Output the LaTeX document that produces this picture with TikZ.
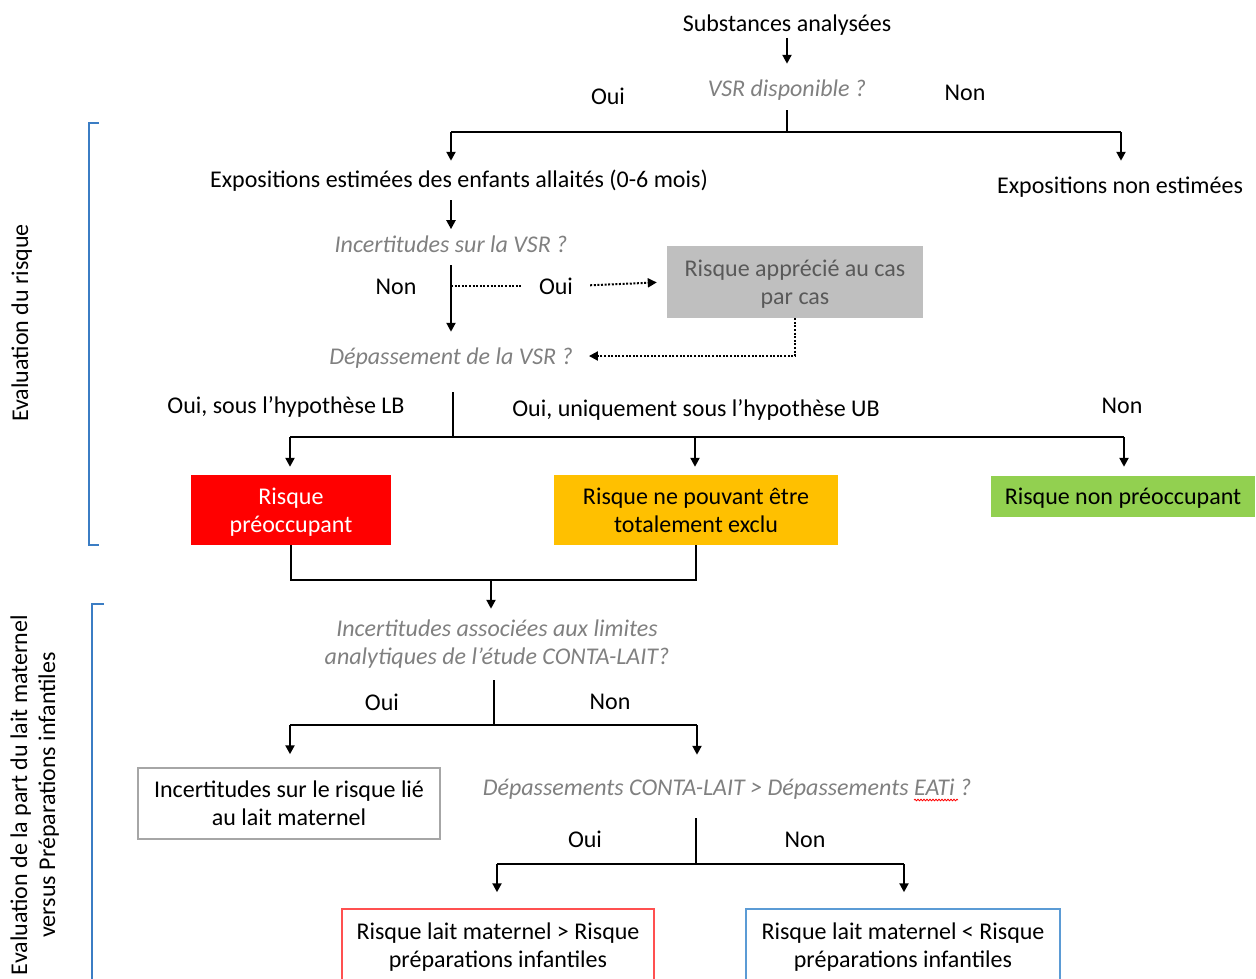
\documentclass[tikz,border=0pt]{standalone}
\usepackage{fontspec}
\setmainfont{Carlito}
\usetikzlibrary{arrows.meta,calc,decorations.pathmorphing}
\definecolor{qgray}{HTML}{808080}
\definecolor{boxgray}{HTML}{BFBFBF}
\definecolor{boxtext}{HTML}{595959}
\definecolor{rred}{HTML}{FF0000}
\definecolor{rorange}{HTML}{FFC000}
\definecolor{rgreen}{HTML}{92D050}
\definecolor{bblue}{HTML}{3B7DC4}
\definecolor{redborder}{HTML}{FF5050}
\definecolor{blueborder}{HTML}{5B9BD5}
\definecolor{thinborder}{HTML}{A6A6A6}
\newcommand\topstrut{\rule{0pt}{22.8pt}}
\newcommand\botstrut{\rule[-6.5pt]{0pt}{6.5pt}}
\begin{document}
\begin{tikzpicture}[x=1pt,y=-1pt,
  every node/.style={font=\fontsize{24}{28}\selectfont, inner sep=0pt, align=center, text=black},
  sl/.style={execute at begin node={\rule{0pt}{22.8pt}},
    execute at end node={\rule[-6.5pt]{0pt}{6.5pt}}},
  quest/.style={text=qgray, font=\fontsize{24}{28}\selectfont\itshape},
  flow/.style={line width=2.2pt, draw=black},
  arr/.style={flow, -{Triangle[length=9pt,width=9pt]}},
  dotline/.style={line width=2pt, draw=black, dash pattern=on 2pt off 1.6pt},
  dotarr/.style={dotline, -{Triangle[length=9pt,width=9pt]}},
  fillbox/.style={rectangle, draw=none, minimum width=#1},
  outbox/.style={rectangle, line width=1.5pt, minimum width=#1},
  bracket/.style={line width=2.5pt, draw=bblue},
  sidelabel/.style={rotate=90, text=black}
]
\useasboundingbox (0,0) rectangle (1256,978);

% ---------- nodes ----------
\node[sl] (subst) at (787,23) {Substances analysées};
\node[sl, quest] (vsr) at (787,88) {VSR disponible ?};
\node[sl] (oui1) at (608,96) {Oui};
\node[sl] (non1) at (965,92) {Non};
\node[sl] (expo) at (459,179) {Expositions estimées des enfants allaités (0-6 mois)};
\node[sl] (nonexpo) at (1120,185) {Expositions non estimées};
\node[sl, quest] (incvsr) at (451,244) {Incertitudes sur la VSR ?};
\node[sl] (non2) at (396,286) {Non};
\node[sl] (oui2) at (556,286) {Oui};
\node[fillbox=256pt, minimum height=72pt, fill=boxgray, text=boxtext] (cas) at (795,282) {\topstrut Risque apprécié au cas\\par cas\botstrut};
\node[sl, quest] (dep) at (451,356) {Dépassement de la VSR ?};
\node[sl] (lb) at (286,405) {Oui, sous l’hypothèse LB};
\node[sl] (ub) at (696,408) {Oui, uniquement sous l’hypothèse UB};
\node[sl] (non3) at (1122,405) {Non};
\node[fillbox=200pt, minimum height=70pt, fill=rred, text=white] (rred) at (291,510) {\topstrut Risque\\préoccupant\botstrut};
\node[fillbox=284pt, minimum height=70pt, fill=rorange] (rorange) at (696,510) {\topstrut Risque ne pouvant être\\totalement exclu\botstrut};
\node[sl, fillbox=264pt, minimum height=41pt, fill=rgreen] (rgreen) at (1123,496.5) {Risque non préoccupant};
\node[quest] (inca) at (497,642) {\topstrut Incertitudes associées aux limites\\analytiques de l’étude CONTA-LAIT?\botstrut};
\node[sl] (oui4) at (382,702) {Oui};
\node[sl] (non4) at (610,701) {Non};
\node[outbox=302pt, minimum height=71pt, draw=thinborder] (incbox) at (289,803.5) {\topstrut Incertitudes sur le risque lié\\au lait maternel\botstrut};
\node[sl, quest] (depc) at (727,787) {Dépassements CONTA-LAIT > Dépassements EATi ?};
\node[sl] (oui5) at (585,839) {Oui};
\node[sl] (non5) at (805,839) {Non};
\node[outbox=312pt, minimum height=73pt, draw=redborder] (rlm1) at (498,945.5) {\topstrut Risque lait maternel > Risque\\préparations infantiles\botstrut};
\node[outbox=314pt, minimum height=73pt, draw=blueborder] (rlm2) at (903,945.5) {\topstrut Risque lait maternel < Risque\\préparations infantiles\botstrut};
\node[sl, sidelabel] (eval1) at (20,323) {Evaluation du risque};
\node[sidelabel] (eval2) at (33,795) {\topstrut Evaluation de la part du lait maternel\\versus Préparations infantiles\botstrut};

% ---------- junctions ----------
\coordinate (j1) at (787,132);
\coordinate (jl) at (451,132);
\coordinate (jr) at (1121,132);
\coordinate (dj) at (451,286);
\coordinate (j3) at (453,437);
\coordinate (h3l) at (290,437);
\coordinate (h3m) at (695,437);
\coordinate (h3r) at (1124,437);
\coordinate (jm) at (491,580);
\coordinate (j4) at (494,725);
\coordinate (h4l) at (290,725);
\coordinate (h4r) at (697,725);
\coordinate (j5) at (696,864);
\coordinate (h5l) at (497,864);
\coordinate (h5r) at (904,864);

% ---------- connectors ----------
\draw[arr, shorten >=9.4pt] (subst.south) -- (vsr.north);
\draw[flow, shorten <=7.4pt] (vsr.south) -- (j1);
\draw[flow] (jl) -- (jr);
\draw[arr, shorten >=3.4pt] (jl) -- (jl |- expo.north);
\draw[arr, shorten >=9.4pt] (jr) -- (jr |- nonexpo.north);
\draw[arr, shorten <=6.4pt] (incvsr.north |- expo.south) -- (incvsr.north);
\draw[arr, shorten <=6.4pt, shorten >=9.4pt] (incvsr.south) -- (dep.north);
\draw[dotline, shorten >=18pt] (dj) -- (oui2.west);
\draw[dotarr, shorten <=17pt, shorten >=10pt] (oui2.east) -- (cas.west);
\draw[dotarr, shorten >=16pt] (cas.south) |- (dep.east);
\draw[flow, shorten <=21.4pt] (j3 |- dep.south) -- (j3);
\draw[flow] (h3l) -- (h3r);
\draw[arr, shorten >=8pt] (h3l) -- (h3l |- rred.north);
\draw[arr, shorten >=8pt] (h3m) -- (h3m |- rorange.north);
\draw[arr, shorten >=9pt] (h3r) -- (h3r |- rgreen.north);
\draw[flow] (rred.south) -- ++(0,35) -| (rorange.south);
\draw[arr, shorten >=4.4pt] (jm) -- (jm |- inca.north);
\draw[flow, shorten <=9.4pt] (j4 |- inca.south) -- (j4);
\draw[flow] (h4l) -- (h4r);
\draw[arr, shorten >=13pt] (h4l) -- (h4l |- incbox.north);
\draw[arr, shorten >=17.4pt] (h4r) -- (h4r |- depc.north);
\draw[flow, shorten <=16.4pt] (j5 |- depc.south) -- (j5);
\draw[flow] (h5l) -- (h5r);
\draw[arr, shorten >=16pt] (h5l) -- (h5l |- rlm1.north);
\draw[arr, shorten >=16pt] (h5r) -- (h5r |- rlm2.north);

% spell-check squiggle under EATi
\draw[red, line width=0.8pt, decorate, decoration={snake, amplitude=0.8pt, segment length=3pt}] (914,800) -- (958,800);

% ---------- brackets ----------
\draw[bracket] (99,123) -- (89,123) -- (89,545) -- (99,545);
\draw[bracket] (104,604) -- (92,604) -- (92,985);
\end{tikzpicture}
\end{document}
